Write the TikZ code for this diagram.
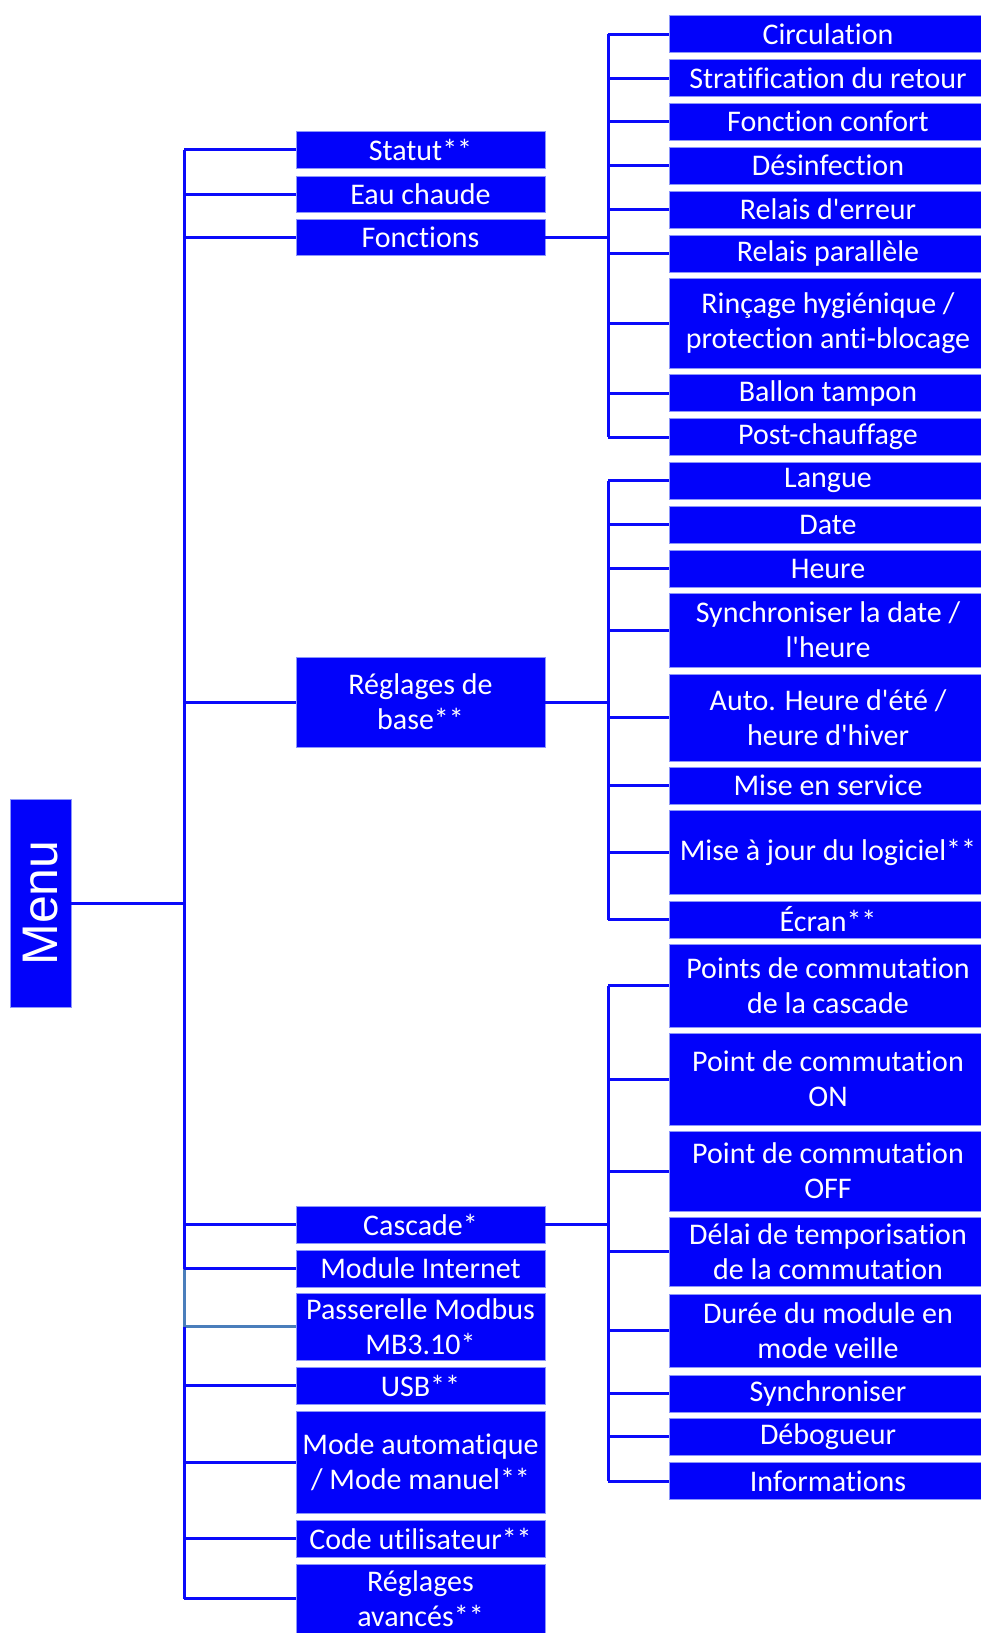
\documentclass[tikz,border=0pt]{standalone}
\usepackage{fontspec}
\setmainfont{Carlito}[Ligatures={TeXReset,NoCommon}]
\newfontfamily\menufont{Liberation Sans}
\usepackage{xcolor}
\usepackage{tikz}
\usetikzlibrary{calc, positioning}
\definecolor{boxblue}{RGB}{2,2,250}
\definecolor{edgeblue}{RGB}{140,150,250}
\definecolor{lineblue}{RGB}{10,10,250}
\definecolor{linkteal}{RGB}{74,126,187}
\tikzset{
  menubox/.style={rectangle,fill=boxblue,draw=edgeblue,line width=0.4pt,text=white,rotate=90,
    inner sep=0pt,minimum width=104pt,minimum height=30.5pt,font=\menufont\fontsize{25}{30}\selectfont},
  itembox/.style={rectangle,fill=boxblue,draw=edgeblue,line width=0.4pt,text=white,align=center,
    inner sep=0pt,minimum width=124.5pt,minimum height=18.5pt,font=\fontsize{15}{17.5}\selectfont},
  subbox/.style={itembox,minimum width=159pt},
  link/.style={draw=lineblue,line width=1.5pt},
  tealink/.style={draw=linkteal,line width=1.5pt}
}

\begin{document}
\begin{tikzpicture}[x=0.5pt,y=-0.5pt]
  \useasboundingbox (0,0) rectangle (980,1633);
  \node[menubox] (menu) at (40.5,903) {Menu};
  % first level
  \node[itembox] (statut) at (420.5,149.5) {Statut**};
  \node[itembox, minimum height=18pt] (eau) at (420.5,194) {Eau chaude};
  \node[itembox, minimum height=18pt] (fonctions) at (420.5,237) {Fonctions};
  \node[itembox, minimum height=45pt] (base) at (420.5,702) {Réglages de\\base**};
  \node[itembox] (cascade) at (420.5,1224.5) {Cascade*};
  \node[itembox] (internet) at (420.5,1268.5) {Module Internet};
  \node[itembox, minimum height=33.5pt] (modbus) at (420.5,1326.5) {Passerelle Modbus\\MB3.10*};
  \node[itembox] (usb) at (420.5,1385.5) {USB**};
  \node[itembox, minimum height=51pt] (mode) at (420.5,1462) {Mode automatique\\/ Mode manuel**};
  \node[itembox] (code) at (420.5,1538.5) {Code utilisateur**};
  \node[itembox, minimum height=34.5pt] (avances) at (420.5,1598.5) {Réglages\\avancés**};
  % second level: Fonctions
  \node[subbox] (circulation) at (828,34) {Circulation};
  \node[subbox] (stratif) at (828,78) {Stratification du retour};
  \node[subbox] (confort) at (828,121.5) {Fonction confort};
  \node[subbox] (desinf) at (828,165.5) {Désinfection};
  \node[subbox] (erreur) at (828,209.5) {Relais d'erreur};
  \node[subbox] (parallele) at (828,253.5) {Relais parallèle};
  \node[subbox, minimum height=45pt] (rincage) at (828,323) {Rinçage hygiénique /\\protection anti-blocage};
  \node[subbox] (ballon) at (828,393) {Ballon tampon};
  \node[subbox] (post) at (828,437) {Post-chauffage};
  % second level: Réglages de base
  \node[subbox] (langue) at (828,480.5) {Langue};
  \node[subbox] (date) at (828,524.5) {Date};
  \node[subbox] (heure) at (828,568.5) {Heure};
  \node[subbox, minimum height=37pt] (sync) at (828,630) {Synchroniser la date /\\l'heure};
  \node[subbox, minimum height=43.5pt] (ete) at (828,717.5) {Auto. Heure d'été /\\heure d'hiver};
  \node[subbox] (service) at (828,785.5) {Mise en service};
  \node[subbox, minimum height=42pt] (logiciel) at (828,852) {Mise à jour du logiciel**};
  \node[subbox] (ecran) at (828,919.5) {Écran**};
  % second level: Cascade
  \node[subbox, minimum height=41.5pt] (points) at (828,985.5) {Points de commutation\\de la cascade};
  \node[subbox, minimum height=46pt] (on) at (828,1079) {Point de commutation\\ON};
  \node[subbox, minimum height=40pt] (off) at (828,1171) {Point de commutation\\OFF};
  \node[subbox, minimum height=34.5pt] (delai) at (828,1251.5) {Délai de temporisation\\de la commutation};
  \node[subbox, minimum height=36.5pt] (veille) at (828,1330.5) {Durée du module en\\mode veille};
  \node[subbox] (synchro) at (828,1393.5) {Synchroniser};
  \node[subbox] (debug) at (828,1436.5) {Débogueur};
  \node[subbox] (infos) at (828,1481) {Informations};

  % trunks
  \coordinate (trunk) at (184,903);
  \coordinate (subtrunk) at (608,0);
  \draw[link] (menu.south) -- (trunk);
  \draw[link] (statut.west -| trunk) -- (internet.west -| trunk);
  \draw[tealink] (internet.west -| trunk) -- (modbus.west -| trunk) -- (modbus.west);
  \draw[link] (modbus.west -| trunk) -- (avances.west -| trunk);
  \foreach \n in {statut,eau,fonctions,base,cascade,internet,usb,mode,code,avances}
    \draw[link] (\n.west -| trunk) -- (\n.west);

  \foreach \p/\first/\last in {fonctions/circulation/post, base/langue/ecran, cascade/points/infos} {
    \draw[link] (\p.east) -- (\p.east -| subtrunk);
    \draw[link] (\first.west -| subtrunk) -- (\last.west -| subtrunk);
  }
  \foreach \n in {circulation,stratif,confort,desinf,erreur,parallele,rincage,ballon,post,
                  langue,date,heure,sync,ete,service,logiciel,ecran,
                  points,on,off,delai,veille,synchro,debug,infos}
    \draw[link] (\n.west -| subtrunk) -- (\n.west);
\end{tikzpicture}
\end{document}
